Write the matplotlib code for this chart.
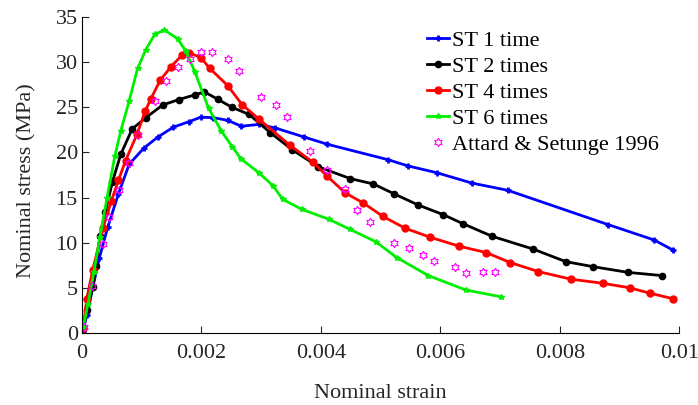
import numpy as np
import matplotlib.pyplot as plt
from matplotlib.path import Path

plt.rcParams['font.family'] = ['Liberation Serif', 'DejaVu Serif']

# ST 1 time
st1_strain = [0.00002, 0.00008, 0.00029, 0.00043, 0.00061, 0.00079, 0.00104, 0.00127,
              0.00153, 0.00179, 0.00199, 0.0022, 0.00244, 0.00267, 0.00296, 0.00324,
              0.00372, 0.00411, 0.00512, 0.00546, 0.00594, 0.00653, 0.00713, 0.00881,
              0.00958, 0.00989]
st1_stress = [0.25, 2.0, 8.3, 11.7, 15.4, 18.7, 20.5, 21.7, 22.8, 23.4, 23.9, 23.85,
              23.55, 22.9, 23.1, 22.7, 21.7, 20.9, 19.2, 18.5, 17.75, 16.6, 15.8, 12.0,
              10.3, 9.2]

# ST 2 times
st2_strain = [0.00002, 0.00008, 0.00018, 0.00023, 0.0003, 0.00039, 0.00051, 0.00065,
              0.00084, 0.00107, 0.00135, 0.00162, 0.0019, 0.00205, 0.00227, 0.00251,
              0.0028, 0.00315, 0.00352, 0.00396, 0.00449, 0.00488, 0.00523, 0.00562,
              0.00605, 0.00638, 0.00687, 0.00755, 0.0081, 0.00855, 0.00915, 0.00972]
st2_stress = [0.4, 2.5, 5.05, 7.45, 10.7, 13.4, 16.75, 19.8, 22.6, 23.85, 25.25, 25.85,
              26.4, 26.7, 25.9, 25.0, 24.2, 22.2, 20.3, 18.4, 17.1, 16.5, 15.4, 14.2,
              13.1, 12.1, 10.7, 9.3, 7.9, 7.35, 6.7, 6.35]

# ST 4 times
st4_strain = [0.00002, 0.00008, 0.00018, 0.00035, 0.00049, 0.00061, 0.00073, 0.00092,
              0.00106, 0.00115, 0.00131, 0.00149, 0.00168, 0.00179, 0.00199, 0.00214,
              0.00244, 0.00268, 0.00297, 0.00348, 0.00387, 0.0041, 0.00441, 0.00471,
              0.00504, 0.00541, 0.00583, 0.00632, 0.00677, 0.00717, 0.00764, 0.00819,
              0.00872, 0.00917, 0.00951, 0.00989]
st4_stress = [0.5, 3.8, 7.0, 11.6, 14.6, 16.9, 19.1, 22.0, 24.6, 25.9, 28.0, 29.5, 30.8,
              31.05, 30.5, 29.3, 27.4, 25.3, 23.65, 20.8, 18.9, 17.4, 15.5, 14.4, 12.9,
              11.6, 10.6, 9.6, 8.9, 7.8, 6.8, 5.95, 5.5, 5.0, 4.4, 3.8]

# ST 6 times
st6_strain = [0.00002, 0.0001, 0.0002, 0.0003, 0.00042, 0.00055, 0.00065, 0.00079,
              0.00093, 0.00107, 0.00122, 0.00138, 0.0016, 0.00174, 0.00189, 0.00212,
              0.00233, 0.00252, 0.00266, 0.00296, 0.0032, 0.00336, 0.00368, 0.00413,
              0.00448, 0.00492, 0.00527, 0.0058, 0.00643, 0.00702]
st6_stress = [0.6, 3.2, 6.8, 10.6, 15.0, 19.6, 22.4, 25.7, 29.3, 31.4, 33.1, 33.55,
              32.6, 31.2, 28.9, 24.9, 22.4, 20.6, 19.3, 17.75, 16.3, 14.8, 13.7, 12.6,
              11.5, 10.1, 8.35, 6.35, 4.75, 4.0]

# Attard & Setunge 1996
att_strain = [0.00004, 0.00016, 0.00035, 0.00046, 0.00062, 0.00079, 0.00093, 0.00122,
              0.0014, 0.00161, 0.00181, 0.002, 0.00218, 0.00245, 0.00263, 0.003,
              0.00325, 0.00343, 0.00382, 0.0041, 0.00441, 0.00461, 0.00482, 0.00523,
              0.00548, 0.00571, 0.0059, 0.00624, 0.00643, 0.00671, 0.00691]
att_stress = [0.7, 5.2, 9.8, 12.8, 15.8, 18.8, 21.9, 25.7, 27.9, 29.5, 30.3, 31.15,
              31.15, 30.4, 29.0, 26.1, 25.3, 23.95, 20.2, 18.0, 15.9, 13.6, 12.25, 10.0,
              9.4, 8.6, 8.0, 7.35, 6.6, 6.7, 6.7]

# hexagram outline marker
ang = np.pi / 2 + np.arange(12) * np.pi / 6
rad = np.where(np.arange(12) % 2 == 0, 1.0, 1 / np.sqrt(3))
verts = np.column_stack([rad * np.cos(ang), rad * np.sin(ang)])
verts = np.vstack([verts, verts[0]])
hexagram = Path(verts, closed=True)

fig = plt.figure(figsize=(6.98, 4.05), dpi=100)
ax = fig.add_axes([0.1175, 0.178, 0.8555, 0.78])

ax.plot(st1_strain, st1_stress, color='blue', lw=2, marker='+', ms=5, mew=2,
        label='ST 1 time')
ax.plot(st2_strain, st2_stress, color='black', lw=2, marker='o', ms=4.5,
        label='ST 2 times')
ax.plot(st4_strain, st4_stress, color='red', lw=2, marker='o', ms=5,
        label='ST 4 times')
ax.plot(st6_strain, st6_stress, color='#00ee00', lw=2, marker='*', ms=4,
        label='ST 6 times')
ax.plot(att_strain, att_stress, ls='none', marker=hexagram, ms=6, mfc='none',
        mec='magenta', mew=0.8, label='Attard & Setunge 1996')

ax.set_xlim(0, 0.01)
ax.set_ylim(0, 35)
ax.set_xticks([0, 0.002, 0.004, 0.006, 0.008, 0.01])
ax.set_xticklabels(['0', '0.002', '0.004', '0.006', '0.008', '0.01'])
ax.set_yticks(range(0, 36, 5))
ax.tick_params(direction='in', labelsize=16, length=5, colors='#262626')
ax.tick_params(axis='x', pad=8)
ax.tick_params(axis='y', pad=3)
ax.spines['top'].set_visible(False)
ax.spines['right'].set_visible(False)
ax.set_xlabel('Nominal strain', fontsize=16, va='center', color='#262626')
ax.set_ylabel('Nominal stress (MPa)', fontsize=16, va='center', color='#262626')
ax.xaxis.set_label_coords(0.5, -0.193)
ax.yaxis.set_label_coords(-0.092, 0.481)

ax.legend(loc='upper left', bbox_to_anchor=(0.563, 0.985), frameon=False,
          fontsize=16, handlelength=1.0, handletextpad=0.1, labelspacing=0.24,
          borderaxespad=0)

fig.savefig('out.png', dpi=100)
